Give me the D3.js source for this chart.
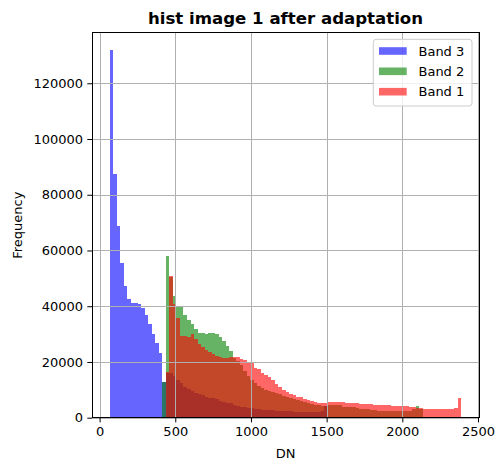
<!DOCTYPE html>
<html>
<head>
<meta charset="utf-8">
<script src="https://cdn.jsdelivr.net/npm/d3@7"></script>
<style>
  html, body { margin: 0; padding: 0; background: #ffffff; }
  svg { display: block; font-family: "DejaVu Sans", sans-serif; }
</style>
</head>
<body>
<svg id="chart" width="504" height="470"></svg>
<script>
// ---- data ----
const title = "hist image 1 after adaptation";
const xLabel = "DN";
const yLabel = "Frequency";
const seriesNames = ["Band 3", "Band 2", "Band 1"];
const seriesColors = ["blue", "green", "red"];
const xTicks = [0, 500, 1000, 1500, 2000, 2500];
const yTicks = [0, 20000, 40000, 60000, 80000, 100000, 120000];

// common histogram bins: 100 bins from binStart with binWidth
const binStart = 66;
const binWidth = 23.244;

// Band 3 (blue), first bin index 0
const band3Start = 0;
const band3Counts = [
  131900, 87450, 68800, 55500, 47250, 42700, 41300, 41100, 40900, 39350,
  36850, 33600, 30000, 26800, 23200, 12900, 15900, 16100, 15000, 13500,
  12300, 11100, 10400, 9700, 8700, 8500, 8000, 7550, 7100, 6900,
  6600, 6100, 5650, 5400, 5150, 4700, 4200, 3900, 3750, 3650,
  3400, 3150, 3000, 2900, 2800, 2700, 2600, 2550, 2500, 2450,
  2400, 2300, 2200, 2150, 2100, 2050, 2050, 2000, 2000, 2050,
  2300, 4300
];

// Band 2 (green), first bin index 15
const band2Start = 15;
const band2Counts = [
  12900, 58000, 50400, 43700, 40000, 39600, 36700, 35000, 33600, 31900,
  30300, 30300, 30000, 30500, 30500, 30000, 28800, 27400, 25700, 24000,
  21600, 20450, 18800, 16900, 15000, 13500, 12300, 11400, 10650, 9930,
  9460, 9300, 8900, 8400, 7900, 7500, 7100, 6800, 6400, 6000,
  5700, 5300, 5000, 4700, 4400, 4300, 4300, 4400, 4600, 4700,
  4450, 3960, 3960, 3960, 3960, 3500, 3000, 3000, 3000, 2760,
  2760, 2520, 2520, 2520, 2520, 2300, 2300, 2300, 2300, 2300,
  2300, 3000, 4200, 3000
];

// Band 1 (red), first bin index 16
const band1Start = 16;
const band1Counts = [
  16500, 51000, 40800, 35900, 29400, 29400, 29100, 29900, 28200, 26300,
  25300, 24400, 23600, 22900, 22200, 21800, 21600, 21600, 21700, 21700,
  21650, 21200, 20700, 20000, 19500, 18000, 17350, 15900, 15300, 14500,
  13600, 12100, 11100, 9950, 9200, 8500, 8050, 7550, 7300, 6850,
  6350, 6100, 5650, 5400, 5300, 5300, 5500, 5600, 5600, 5600,
  5500, 5150, 5150, 5150, 5150, 4900, 4900, 4900, 4900, 4450,
  4450, 4450, 4450, 4450, 4200, 4200, 4200, 4200, 4200, 3950,
  3950, 3500, 3500, 3000, 3000, 3000, 3000, 3000, 3000, 3000,
  3000, 3000, 3450, 7000
];

const seriesStarts = [band3Start, band2Start, band1Start];
const seriesCounts = [band3Counts, band2Counts, band1Counts];

// ---- layout ----
const svg = d3.select("#chart");
const pLeft = 92, pRight = 479, pTop = 32.7, pBottom = 417.7;

const x = d3.scaleLinear().domain([-50.2, 2506.6]).range([pLeft, pRight]);
const y = d3.scaleLinear().domain([0, 138150]).range([pBottom, pTop]);

// bars
seriesCounts.forEach((counts, s) => {
  const data = counts.map((c, j) => ({
    x0: binStart + (seriesStarts[s] + j) * binWidth,
    x1: binStart + (seriesStarts[s] + j + 1) * binWidth,
    c: c
  }));
  svg.append("g")
    .attr("shape-rendering", "crispEdges")
    .selectAll("rect")
    .data(data)
    .join("rect")
    .attr("x", d => x(d.x0))
    .attr("width", d => x(d.x1) - x(d.x0))
    .attr("y", d => y(d.c))
    .attr("height", d => y(0) - y(d.c))
    .attr("fill", seriesColors[s])
    .attr("fill-opacity", 0.6);
});

// grid (drawn above bars as in the reference)
const grid = svg.append("g").attr("shape-rendering", "crispEdges");
grid.selectAll("line.gx").data(xTicks).join("line")
  .attr("x1", d => Math.round(x(d)) + 0.5).attr("x2", d => Math.round(x(d)) + 0.5)
  .attr("y1", pTop).attr("y2", pBottom)
  .attr("stroke", "#b0b0b0").attr("stroke-width", 1);
grid.selectAll("line.gy").data(yTicks).join("line")
  .attr("y1", d => Math.round(y(d)) + 0.5).attr("y2", d => Math.round(y(d)) + 0.5)
  .attr("x1", pLeft).attr("x2", pRight)
  .attr("stroke", "#b0b0b0").attr("stroke-width", 1);

// axes
const xAxis = d3.axisBottom(x).tickValues(xTicks).tickFormat(d3.format("d"))
  .tickSize(4.7).tickPadding(4.2);
const yAxis = d3.axisLeft(y).tickValues(yTicks).tickFormat(d3.format("d"))
  .tickSize(4.7).tickPadding(4.2);

const gx = svg.append("g").attr("transform", `translate(0,${pBottom})`).call(xAxis);
const gy = svg.append("g").attr("transform", `translate(${pLeft},0)`).call(yAxis);
[gx, gy].forEach(g => {
  g.select(".domain").remove();
  g.selectAll("line").attr("stroke", "#000").attr("stroke-width", 1);
  g.selectAll("text").attr("fill", "#000").style("font-size", "13px")
    .style("font-family", "'DejaVu Sans', sans-serif");
});

// spines
svg.append("rect")
  .attr("x", pLeft).attr("y", pTop)
  .attr("width", pRight - pLeft).attr("height", pBottom - pTop)
  .attr("fill", "none").attr("stroke", "#000").attr("stroke-width", 1)
  .attr("shape-rendering", "crispEdges");

// title and labels
svg.append("text")
  .attr("x", (pLeft + pRight) / 2).attr("y", 24.4)
  .attr("text-anchor", "middle")
  .style("font-size", "16.6px").style("font-weight", "bold")
  .text(title);
svg.append("text")
  .attr("x", (pLeft + pRight) / 2).attr("y", 458)
  .attr("text-anchor", "middle")
  .style("font-size", "13px")
  .text(xLabel);
svg.append("text")
  .attr("transform", `translate(22,${(pTop + pBottom) / 2}) rotate(-90)`)
  .attr("text-anchor", "middle")
  .style("font-size", "13px")
  .text(yLabel);

// legend
const lg = svg.append("g");
lg.append("rect")
  .attr("x", 373.3).attr("y", 39.3).attr("width", 98.7).attr("height", 66.7)
  .attr("rx", 3).attr("ry", 3)
  .attr("fill", "#fff").attr("fill-opacity", 0.8)
  .attr("stroke", "#cccccc").attr("stroke-width", 1);
const rowY = [51, 71.3, 91.7];
seriesNames.forEach((name, i) => {
  lg.append("rect")
    .attr("x", 379).attr("y", rowY[i] - 3.8).attr("width", 27.7).attr("height", 7.6)
    .attr("fill", seriesColors[i]).attr("fill-opacity", 0.6);
  lg.append("text")
    .attr("x", 418.5).attr("y", rowY[i] + 4.7)
    .style("font-size", "13px")
    .text(name);
});
</script>
</body>
</html>
